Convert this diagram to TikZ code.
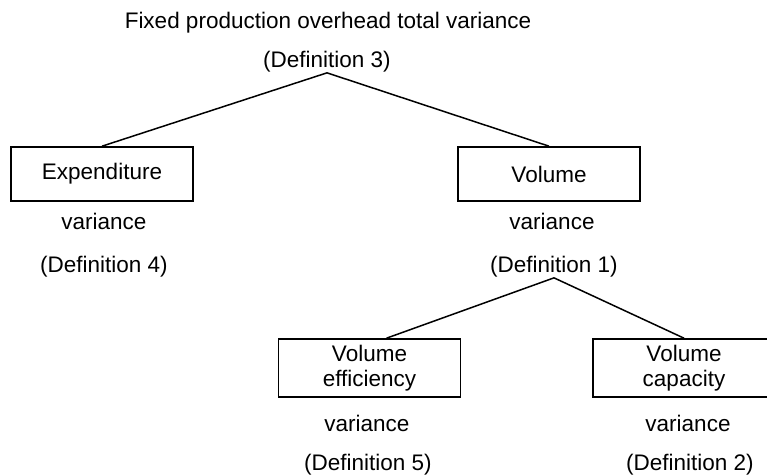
\documentclass[tikz,border=0pt]{standalone}
\usepackage{fontspec}
\setmainfont{Liberation Sans}
\begin{document}
\begin{tikzpicture}[x=1bp,y=1bp,
  font=\fontsize{22.5bp}{24.5bp}\selectfont,
  texte/.style={inner sep=0pt,anchor=base},
  boite/.style={draw,line width=1.6bp,minimum width=182bp,align=center,inner sep=0pt},
  trait/.style={line width=1.5bp}]
\useasboundingbox (0,0) rectangle (767,475);

%sommet
\node[texte] (total) at (328,446) {Fixed production overhead total variance};
\node[texte] (def3) at (327,407) {(Definition 3)};

%premier niveau
\node[boite,minimum height=54bp] (expend) at (102,301) {Expenditure};
\node[boite,minimum height=54bp] (volume) at (549,301) {Volume};
\node[texte] (varexp) at (104,245) {variance};
\node[texte] (varvol) at (552,245) {variance};
\node[texte] (def4) at (104,202) {(Definition 4)};
\node[texte] (def1) at (554,202) {(Definition 1)};

%second niveau
\node[boite,minimum height=58bp] (effic) at (369.5,107) {Volume\\efficiency};
\node[boite,minimum height=58bp] (capac) at (684,107) {Volume\\capacity};
\node[texte] (vareff) at (367,43) {variance};
\node[texte] (varcap) at (688,43) {variance};
\node[texte] (def5) at (368,4) {(Definition 5)};
\node[texte] (def2) at (690,4) {(Definition 2)};

%traits
\draw[trait] (expend.north) -- (def3.south) -- (volume.north);
\draw[trait] ([xshift=17bp]effic.north) -- (def1.south) -- (capac.north);
\end{tikzpicture}
\end{document}
